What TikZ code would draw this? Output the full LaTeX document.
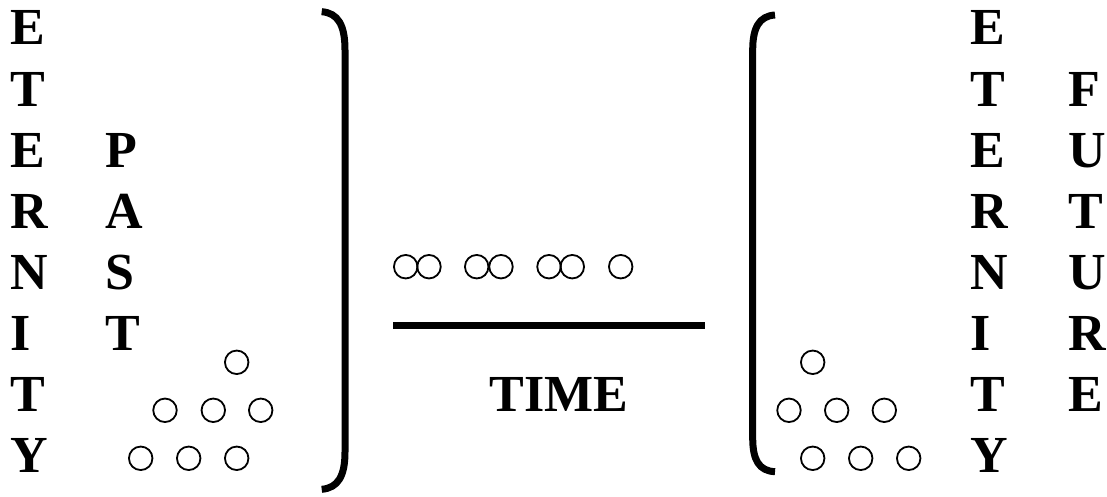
\documentclass[tikz,border=0pt]{standalone}
\usepackage{fontspec}
\setmainfont{Liberation Serif}
\begin{document}
\begin{tikzpicture}[x=1bp,y=-1bp,
  letter/.style={anchor=base west,inner sep=0pt,font=\fontsize{52bp}{52bp}\selectfont\bfseries},
  ring/.style={circle,draw,line width=1.8bp,minimum size=23.5bp,inner sep=0pt},
  brace/.style={line width=7bp}]
\useasboundingbox (0,0) rectangle (1107,497);
% left ETERNITY
\foreach \l [count=\i] in {E,T,E,R,N,I,T,Y}
  \node[letter] (le\i) at (10,{45+61.14*(\i-1)}) {\l};
% PAST
\foreach \l [count=\i] in {P,A,S,T}
  \node[letter] (pa\i) at (105,{45+61.14*(\i+1)}) {\l};
% right ETERNITY
\foreach \l [count=\i] in {E,T,E,R,N,I,T,Y}
  \node[letter] (re\i) at (970,{45+61.14*(\i-1)}) {\l};
% FUTURE
\foreach \l [count=\i] in {F,U,T,U,R,E}
  \node[letter] (fu\i) at (1068,{45+61.14*\i}) {\l};
% left circles
\node[ring] (lc1) at (236.7,362.3) {};
\node[ring] (lc2) at (165,410.3) {};
\node[ring] (lc3) at (213.3,410.3) {};
\node[ring] (lc4) at (260.7,410.3) {};
\node[ring] (lc5) at (140.7,458.3) {};
\node[ring] (lc6) at (188.7,458.3) {};
\node[ring] (lc7) at (236.7,458.3) {};
% right circles
\node[ring] (rc1) at (812.7,362.3) {};
\node[ring] (rc2) at (789,410.3) {};
\node[ring] (rc3) at (836.7,410.3) {};
\node[ring] (rc4) at (884.3,410.3) {};
\node[ring] (rc5) at (812.7,458.3) {};
\node[ring] (rc6) at (860.7,458.3) {};
\node[ring] (rc7) at (908.7,458.3) {};
% middle circles
\node[ring] (mc1) at (405.7,266.7) {};
\node[ring] (mc2) at (429,266.7) {};
\node[ring] (mc3) at (476.7,266.7) {};
\node[ring] (mc4) at (501,266.7) {};
\node[ring] (mc5) at (549,266.7) {};
\node[ring] (mc6) at (572.3,266.7) {};
\node[ring] (mc7) at (620.7,266.7) {};
% time line
\coordinate (tl1) at (393,326);
\coordinate (tl2) at (705,326);
\draw[line width=7bp] (tl1) -- (tl2);
\node[letter,anchor=base] (time) at (559,411.7) {TIME};
% brackets
\draw[brace] (321.7,11.7) .. controls (338,13) and (345,25) .. (345,50)
  -- (345,452) .. controls (345,476) and (338,488) .. (321.7,489.3);
\draw[brace] (775,15) .. controls (759,16) and (752.7,28) .. (752.7,50)
  -- (752.7,438) .. controls (752.7,460) and (759,471) .. (775,471.7);
\end{tikzpicture}
\end{document}
